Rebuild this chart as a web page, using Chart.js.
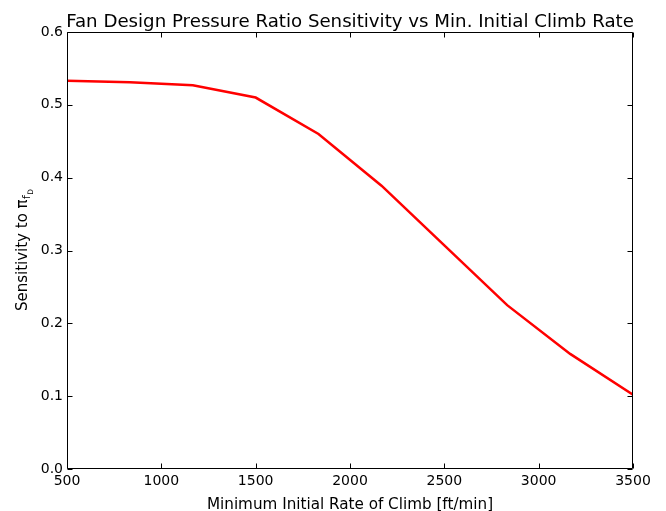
<!DOCTYPE html>
<html><head><meta charset="utf-8">
<script src="https://cdn.jsdelivr.net/npm/chart.js@4/dist/chart.umd.min.js"></script>
<style>html,body{margin:0;padding:0;background:#fff}#wrap{width:666px;height:511px;position:relative}</style>
</head><body><div id="wrap"><canvas id="c" width="666" height="511"></canvas></div>
<script>
const climbRates = [500, 833, 1167, 1500, 1833, 2167, 2500, 2833, 3167, 3500];
const sensitivity = [0.533, 0.531, 0.527, 0.510, 0.460, 0.389, 0.307, 0.225, 0.158, 0.102];
const xTicks = [500, 1000, 1500, 2000, 2500, 3000, 3500];
const yTicks = [0.0, 0.1, 0.2, 0.3, 0.4, 0.5, 0.6];
const titleText = 'Fan Design Pressure Ratio Sensitivity vs Min. Initial Climb Rate';
const xLabel = 'Minimum Initial Rate of Climb [ft/min]';
const yLabelMain = 'Sensitivity to π';
const yLabelSub = 'f';
const yLabelSubSub = 'D';

const FONT = '"DejaVu Sans", sans-serif';

const decor = {
  id: 'decor',
  afterDatasetsDraw(chart) {
    const {ctx, chartArea: a, scales: {x, y}} = chart;
    ctx.save();
    ctx.strokeStyle = '#000';
    ctx.lineWidth = 1;
    const L = Math.round(a.left) + 0.5, R = Math.round(a.right) - 0.5;
    const T = Math.round(a.top) + 0.5, B = Math.round(a.bottom) - 0.5;
    ctx.beginPath();
    ctx.rect(L, T, R - L, B - T);
    ctx.stroke();
    const tl = 5;
    ctx.beginPath();
    xTicks.forEach(v => {
      const px = Math.round(x.getPixelForValue(v)) + 0.5;
      ctx.moveTo(px, B); ctx.lineTo(px, B - tl);
      ctx.moveTo(px, T); ctx.lineTo(px, T + tl);
    });
    yTicks.forEach(v => {
      const py = Math.round(y.getPixelForValue(v)) + 0.5;
      ctx.moveTo(L, py); ctx.lineTo(L + tl, py);
      ctx.moveTo(R, py); ctx.lineTo(R - tl, py);
    });
    ctx.stroke();

    // title
    ctx.fillStyle = '#000';
    ctx.font = '18.2px ' + FONT;
    ctx.textAlign = 'center';
    ctx.textBaseline = 'alphabetic';
    ctx.fillText(titleText, (a.left + a.right) / 2, 27);

    // x label
    ctx.font = '15.2px ' + FONT;
    ctx.fillText(xLabel, (a.left + a.right) / 2, 509);

    // y label with subscripts
    ctx.translate(16, (a.top + a.bottom) / 2);
    ctx.rotate(-Math.PI / 2);
    ctx.textAlign = 'left';
    ctx.font = '15px ' + FONT;
    const w1 = ctx.measureText(yLabelMain).width;
    ctx.font = '10.5px ' + FONT;
    const w2 = ctx.measureText(yLabelSub).width;
    ctx.font = '7.5px ' + FONT;
    const w3 = ctx.measureText(yLabelSubSub).width;
    let sx = -(w1 + w2 + w3) / 2;
    const base = 11;
    ctx.font = '15px ' + FONT;
    ctx.fillText(yLabelMain, sx, base);
    sx += w1 + 0.5;
    ctx.font = '10.5px ' + FONT;
    ctx.fillText(yLabelSub, sx, base + 3);
    sx += w2 + 0.5;
    ctx.font = '7.5px ' + FONT;
    ctx.fillText(yLabelSubSub, sx, base + 5.5);
    ctx.restore();
  }
};

new Chart(document.getElementById('c'), {
  type: 'line',
  data: {
    datasets: [{
      data: climbRates.map((v, i) => ({x: v, y: sensitivity[i]})),
      borderColor: '#ff0000',
      borderWidth: 2.5,
      pointRadius: 0,
      tension: 0,
      fill: false
    }]
  },
  options: {
    responsive: false,
    animation: false,
    devicePixelRatio: 1,
    layout: {padding: {top: 32, right: 33, left: 0, bottom: 0}},
    plugins: {legend: {display: false}, title: {display: false}, tooltip: {enabled: false}},
    scales: {
      x: {
        type: 'linear', min: 500, max: 3500,
        afterBuildTicks: s => { s.ticks = xTicks.map(v => ({value: v})); },
        afterFit: s => { s.height = 42; },
        grid: {display: false, drawTicks: false},
        border: {display: false},
        ticks: {color: '#000', font: {family: FONT, size: 14}, padding: 4, maxRotation: 0, autoSkip: false,
                callback: v => String(v)}
      },
      y: {
        type: 'linear', min: 0, max: 0.6,
        afterBuildTicks: s => { s.ticks = yTicks.map(v => ({value: v})); },
        afterFit: s => { s.width = 67; },
        grid: {display: false, drawTicks: false},
        border: {display: false},
        ticks: {color: '#000', font: {family: FONT, size: 14}, padding: 4, autoSkip: false,
                callback: v => Number(v).toFixed(1)}
      }
    }
  },
  plugins: [decor]
});
</script>
</body></html>
